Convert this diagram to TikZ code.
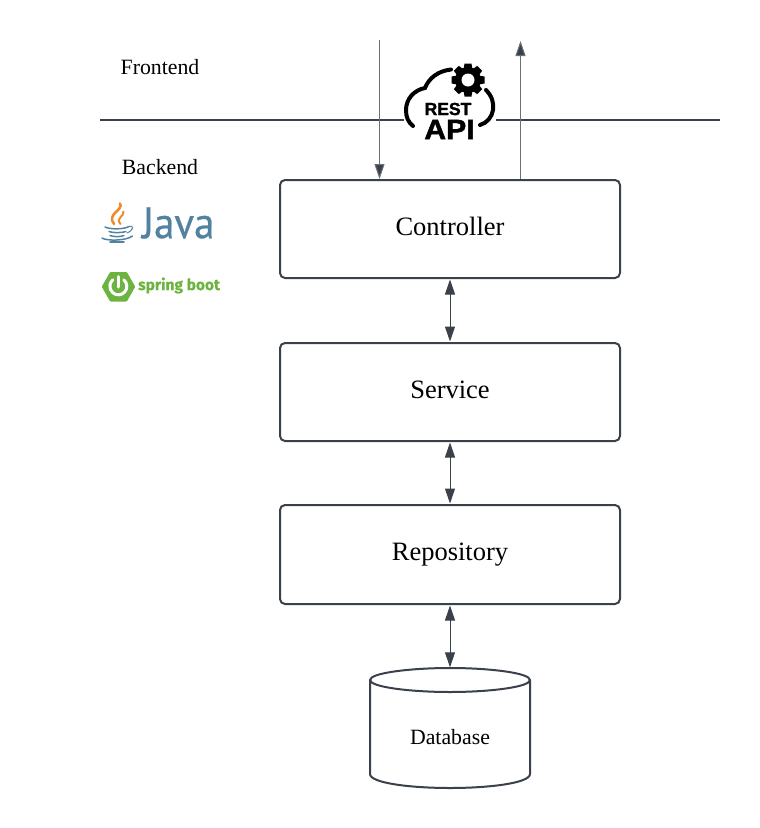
\documentclass[tikz,border=0pt]{standalone}
\usepackage{fontspec}
\setmainfont{Liberation Serif}
\newfontfamily\logosans[BoldFeatures={FakeBold=1.5}]{Liberation Sans}
\newfontfamily\javafont[FakeBold=0.6]{PT Sans}
\newfontfamily\springfont[BoldFeatures={FakeBold=0.4}]{Fira Sans}
\usetikzlibrary{arrows.meta}
\definecolor{ink}{HTML}{3A414A}
\definecolor{thin}{HTML}{6B7078}
\definecolor{javablue}{HTML}{5382A1}
\definecolor{javaorange}{HTML}{EE8A2C}
\definecolor{springgreen}{HTML}{6DB33F}
\tikzset{
  layer/.style={draw=ink,line width=2pt,rounded corners=5pt,minimum width=340pt,inner sep=0pt,text height=18pt,text depth=6pt},
  layertext/.style={font=\fontsize{26.5}{30}\selectfont},
  note/.style={font=\fontsize{21.8}{25}\selectfont,inner sep=0pt},
  flow/.style={draw=thin,line width=1pt,-{Triangle[length=15pt,width=10pt,fill=ink]}},
  both/.style={draw=ink,line width=1pt,{Triangle[length=15pt,width=10pt,fill=ink]}-{Triangle[length=15pt,width=10pt,fill=ink]},shorten <=0.5pt,shorten >=0.5pt},
  rule/.style={draw=ink,line width=1.6pt},
  cloudline/.style={draw=black,line width=4pt,line cap=round},
  cup/.style={javablue,line width=1.5pt,line cap=round}
}
\begin{document}
\begin{tikzpicture}[x=1pt,y=-1pt]
\useasboundingbox (0,0) rectangle (760,828);
% boxes
\node[layer,layertext,minimum height=98pt] (ctrl) at (450,229) {Controller};
\node[layer,layertext,minimum height=98pt] (svc) at (450,392) {Service};
\node[layer,layertext,minimum height=99pt] (repo) at (450,554.5) {Repository};
% database
\node[note,minimum width=160pt,minimum height=120pt,text height=50pt,text depth=18pt] (db) at (450,728) {Database};
\draw[draw=ink,line width=2pt,line join=round]
  (370,680) .. controls (370,673) and (410,668) .. (450,668)
            .. controls (490,668) and (530,673) .. (530,680)
  -- (530,774) .. controls (530,783) and (490,788) .. (450,788)
               .. controls (410,788) and (370,783) .. (370,774) -- cycle;
\draw[draw=ink,line width=2pt]
  (370,680) .. controls (370,687) and (410,692) .. (450,692)
            .. controls (490,692) and (530,687) .. (530,680);
% labels
\node[note] (fe) at (160,67.5) {Frontend};
\node[note] (be) at (160,167.5) {Backend};
% separator
\coordinate (ruleA) at (100,120);
\coordinate (ruleB) at (404,120);
\coordinate (ruleC) at (496,120);
\coordinate (ruleD) at (720,120);
\draw[rule] (ruleA) -- (ruleB);
\draw[rule] (ruleC) -- (ruleD);
% connectors
\coordinate (inTop) at (379.5,40);
\coordinate (outTop) at (520.5,41);
\draw[flow] (inTop) -- (inTop |- ctrl.north);
\draw[flow] (outTop |- ctrl.north) -- (outTop);
\draw[both] (ctrl) -- (svc) ;
\draw[both] (svc) -- (repo);
\draw[both] (repo) -- (db.north);
% REST API logo
\draw[cloudline] (451,69.5) .. controls (438,71) and (429,78) .. (425,88)
   .. controls (414,90) and (406,99) .. (406,110)
   .. controls (406,117) and (408,122) .. (413,126);
\draw[cloudline] (486,90) .. controls (492,96) and (494,103) .. (493,110)
   .. controls (492,117) and (487,123) .. (480,125);
\fill[black] (468,80) circle (13);
\foreach \a in {0,45,...,315}{
  \fill[black,shift={(468,80)},rotate=\a] (-3.5,-16.5) -- (3.5,-16.5) -- (4.5,-10) -- (-4.5,-10) -- cycle;
}
\fill[white] (468,80) circle (6.5);
\node[font=\logosans\bfseries\fontsize{17.5}{17.5}\selectfont,inner sep=0pt] (rest) at (448,109) {REST};
\node[font=\logosans\bfseries\fontsize{28}{28}\selectfont,inner sep=0pt,xscale=1.08] (api) at (449.5,129.5) {API};
% Java logo
\node[font=\javafont\fontsize{44}{44}\selectfont,text=javablue,inner sep=0pt,anchor=west,xscale=.93] (java) at (142,223) {Java};
\draw[javaorange,line width=2.6pt,line cap=round] (120,203.5) .. controls (124,210) and (106,214) .. (114,224);
\draw[javaorange,line width=2pt,line cap=round] (123.5,211.5) .. controls (125,216) and (115,218) .. (120.5,224);
\draw[cup] (105,227) .. controls (110,229.5) and (124,229.5) .. (129,226.5);
\draw[cup] (109,231.5) .. controls (112,233) and (122,233) .. (126,231.5);
\draw[cup] (110,235.5) .. controls (113,237) and (121,237) .. (124,235.5);
\draw[cup] (102,238) .. controls (106,241) and (126,241) .. (132.5,236);
\draw[cup] (110,242) -- (124,242);
\draw[cup,line width=1pt] (129,226.5) .. controls (134,225) and (134,230) .. (127,233);
% Spring Boot logo
\fill[springgreen,draw=springgreen,line width=3pt,line join=round]
  (103.5,286.7) -- (111,273.5) -- (126,273.5) -- (133.5,286.7) -- (126,300) -- (111,300) -- cycle;
\draw[white,line width=3pt,line cap=round] (123.8,279.8) arc[start angle=-50,end angle=230,radius=8.5];
\draw[white,line width=3pt,line cap=round] (118.3,276.5) -- (118.3,287);
\node[font=\springfont\bfseries\fontsize{15.5}{16}\selectfont,text=springgreen,inner sep=0pt,anchor=west] (spring) at (138,285.5) {spring boot};
\end{tikzpicture}
\end{document}
